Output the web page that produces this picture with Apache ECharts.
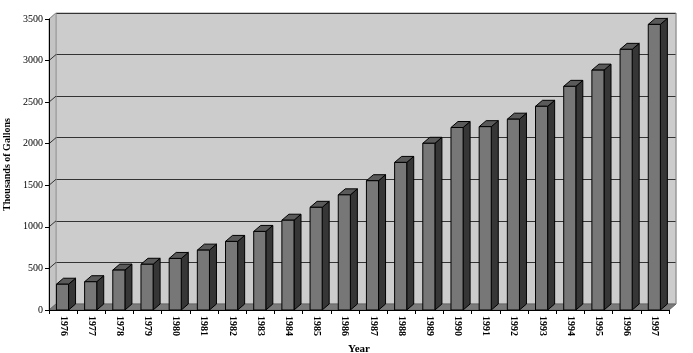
<!DOCTYPE html>
<html><head><meta charset="utf-8">
<script src="https://cdn.jsdelivr.net/npm/echarts@6/dist/echarts.min.js"></script>
<style>html,body{margin:0;padding:0;background:#fff}#c{width:693px;height:353px}</style>
</head><body><div id="c"></div>
<script>
const years = ['1976','1977','1978','1979','1980','1981','1982','1983','1984','1985','1986','1987','1988','1989','1990','1991','1992','1993','1994','1995','1996','1997'];
const gallons = [310,340,480,550,620,720,825,945,1080,1235,1385,1555,1775,2005,2195,2205,2295,2450,2690,2885,3135,3435];
const yTicks = [0,500,1000,1500,2000,2500,3000,3500];

const L = 49, T = 19, B = 310, R = 669, DX = 7, DY = -6, W = 693, H = 353;
const FONT = '"Liberation Serif", "DejaVu Serif", serif';

const chart = echarts.init(document.getElementById('c'), null, {renderer: 'canvas'});

function renderBar(params, api) {
  const idx = api.value(0), v = api.value(1);
  const top = api.coord([idx, v]);
  const bot = api.coord([idx, 0]);
  const bw = api.size([1, 0])[0];
  const fw = bw * 0.43;
  const x0 = top[0] - fw / 2 - 0.6;
  const x1 = x0 + fw;
  const yt = top[1], yb = bot[1];
  const st = {stroke: '#000', lineWidth: 1};
  return {type: 'group', children: [
    {type: 'polygon', shape: {points: [[x1, yt], [x1 + DX, yt + DY], [x1 + DX, yb + DY], [x1, yb]]}, style: Object.assign({fill: '#363636'}, st)},
    {type: 'polygon', shape: {points: [[x0, yt], [x0 + DX, yt + DY], [x1 + DX, yt + DY], [x1, yt]]}, style: Object.assign({fill: '#5a5a5a'}, st)},
    {type: 'rect', shape: {x: x0, y: yt, width: fw, height: yb - yt}, style: Object.assign({fill: '#777777'}, st)}
  ]};
}

const option = {
  animation: false,
  backgroundColor: '#ffffff',
  grid: [
    {left: L, right: W - R, top: T, bottom: H - B, containLabel: false, outerBoundsMode: 'none'},
    {left: L + DX, right: W - R - DX, top: T + DY, bottom: H - B - DY, show: true, backgroundColor: '#cccccc', borderColor: '#999999', borderWidth: 1, z: 0, containLabel: false, outerBoundsMode: 'none'}
  ],
  xAxis: [
    {type: 'category', gridIndex: 0, data: years, boundaryGap: true,
     name: 'Year', nameLocation: 'middle', nameGap: 34,
     nameTextStyle: {fontFamily: FONT, fontWeight: 'bold', fontSize: 11, color: '#000'},
     axisLine: {lineStyle: {color: '#000', width: 1}},
     axisTick: {show: true, alignWithLabel: false, length: 4, lineStyle: {color: '#000'}},
     axisLabel: {rotate: -90, interval: 0, fontFamily: FONT, fontWeight: 'bold', fontSize: 10, color: '#000', margin: 6},
     z: 5},
    {type: 'category', gridIndex: 1, data: years, show: false}
  ],
  yAxis: [
    {type: 'value', gridIndex: 0, min: 0, max: 3500, interval: 500,
     name: 'Thousands of Gallons', nameLocation: 'middle', nameGap: 31,
     nameTextStyle: {fontFamily: FONT, fontWeight: 'bold', fontSize: 10, color: '#000'},
     axisLine: {show: true, lineStyle: {color: '#000', width: 1}},
     axisTick: {show: true, length: 4, lineStyle: {color: '#000'}},
     axisLabel: {fontFamily: FONT, fontSize: 10, color: '#000', margin: 6,
       formatter: v => yTicks.indexOf(v) >= 0 ? String(v) : ''},
     splitLine: {show: false}, z: 5},
    {type: 'value', gridIndex: 1, min: 0, max: 3500, interval: 500,
     axisLine: {show: false}, axisTick: {show: false}, axisLabel: {show: false},
     splitLine: {show: true, lineStyle: {color: '#333333', width: 1}}}
  ],
  series: [{
    type: 'custom', xAxisIndex: 0, yAxisIndex: 0, z: 4,
    renderItem: renderBar,
    data: gallons.map((v, i) => [i, v]),
    encode: {x: 0, y: 1}
  }]
};
chart.setOption(option);

// walls and floor (decor, derived from axis scale)
const g = [];
g.push({type: 'polygon', z: 1, shape: {points: [[L, B], [L, T], [L + DX, T + DY], [L + DX, B + DY]]}, style: {fill: '#c4c4c4', stroke: '#999999', lineWidth: 1}});
yTicks.forEach(v => {
  const p = chart.convertToPixel({gridIndex: 0}, [0, v]);
  const y = p[1];
  if (v > 0) g.push({type: 'line', z: 2, shape: {x1: L, y1: y, x2: L + DX, y2: y + DY}, style: {stroke: v === 3500 ? '#999999' : '#333333', lineWidth: 1}});
});
g.push({type: 'polygon', z: 2, shape: {points: [[L, B], [R, B], [R + DX, B + DY], [L + DX, B + DY]]}, style: {fill: '#7a7a7a', stroke: '#666666', lineWidth: 1}});
g.push({type: 'line', z: 2, shape: {x1: R + DX, y1: T + DY, x2: R + DX, y2: B + DY}, style: {stroke: '#999999', lineWidth: 1}});
chart.setOption({graphic: g.map(e => Object.assign({silent: true}, e))});
</script>
</body></html>
